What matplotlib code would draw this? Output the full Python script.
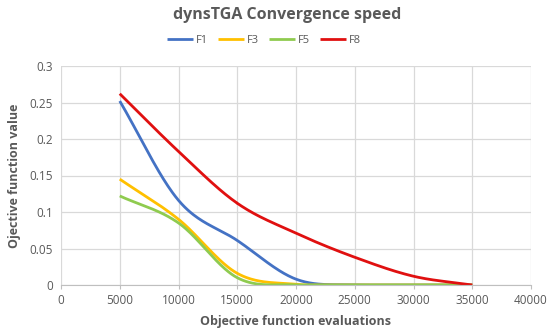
import matplotlib.pyplot as plt
import numpy as np

evaluations = [5000, 10000, 15000, 20000, 25000, 30000, 35000]
f1 = [0.252, 0.116, 0.061, 0.008, 0.0, 0.0, 0.0]
f3 = [0.145, 0.090, 0.016, 0.001, 0.0, 0.0, 0.0]
f5 = [0.122, 0.085, 0.010, 0.0, 0.0, 0.0, 0.0]
f8 = [0.262, 0.183, 0.112, 0.071, 0.038, 0.012, 0.0]

series = [("F1", f1, "#4472C4"), ("F3", f3, "#FFC000"),
          ("F5", f5, "#8FCB4F"), ("F8", f8, "#E01010")]


def smooth(x, y, n=40):
    # Catmull-Rom style smoothing, like Excel's "smoothed line"
    x = np.asarray(x, float)
    y = np.asarray(y, float)
    px = np.concatenate([[2 * x[0] - x[1]], x, [2 * x[-1] - x[-2]]])
    py = np.concatenate([[2 * y[0] - y[1]], y, [2 * y[-1] - y[-2]]])
    xs, ys = [], []
    t = np.linspace(0, 1, n)
    for i in range(1, len(px) - 2):
        for p, out in ((px, xs), (py, ys)):
            p0, p1, p2, p3 = p[i - 1], p[i], p[i + 1], p[i + 2]
            out.extend(0.5 * ((2 * p1) + (-p0 + p2) * t
                              + (2 * p0 - 5 * p1 + 4 * p2 - p3) * t ** 2
                              + (-p0 + 3 * p1 - 3 * p2 + p3) * t ** 3))
    return np.array(xs), np.clip(np.array(ys), 0, None)


plt.rcParams["font.family"] = ["Open Sans", "DejaVu Sans"]
gray = "#595959"

fig = plt.figure(figsize=(5.5, 3.34), dpi=100)
ax = fig.add_axes([61 / 550, 49 / 334, 470 / 550, 219 / 334])

for name, vals, color in series:
    sx, sy = smooth(evaluations, vals)
    ax.plot(sx, sy, color=color, lw=2, label=name, solid_capstyle="butt")

ax.set_xlim(0, 40000)
ax.set_ylim(0, 0.3)
ax.set_xticks(np.arange(0, 40001, 5000))
ax.set_yticks([0, 0.05, 0.1, 0.15, 0.2, 0.25, 0.3])
ax.set_yticklabels(["0", "0.05", "0.1", "0.15", "0.2", "0.25", "0.3"])
ax.grid(True, color="#D9D9D9", lw=0.9)
ax.set_axisbelow(True)
for side in ["top", "right", "left"]:
    ax.spines[side].set_visible(False)
ax.spines["bottom"].set_color("#BFBFBF")
ax.tick_params(colors=gray, labelsize=8.5, length=3, color="#BFBFBF")
ax.tick_params(axis="y", length=0, pad=6)

ax.set_xlabel("Objective function evaluations", fontsize=9, fontweight="bold",
              color=gray, labelpad=6)
ax.set_ylabel("Ojective function value", fontsize=9, fontweight="bold",
              color=gray, labelpad=6)

fig.text(0.522, 0.955, "dynsTGA Convergence speed", ha="center", va="center",
         fontsize=11.5, fontweight="bold", color=gray)
fig.legend(loc="center", bbox_to_anchor=(0.48, 0.88), ncol=4, frameon=False,
           fontsize=8, handlelength=2.3, columnspacing=0.9, handletextpad=0.3,
           labelcolor=gray)

fig.savefig("out.png", dpi=100)
